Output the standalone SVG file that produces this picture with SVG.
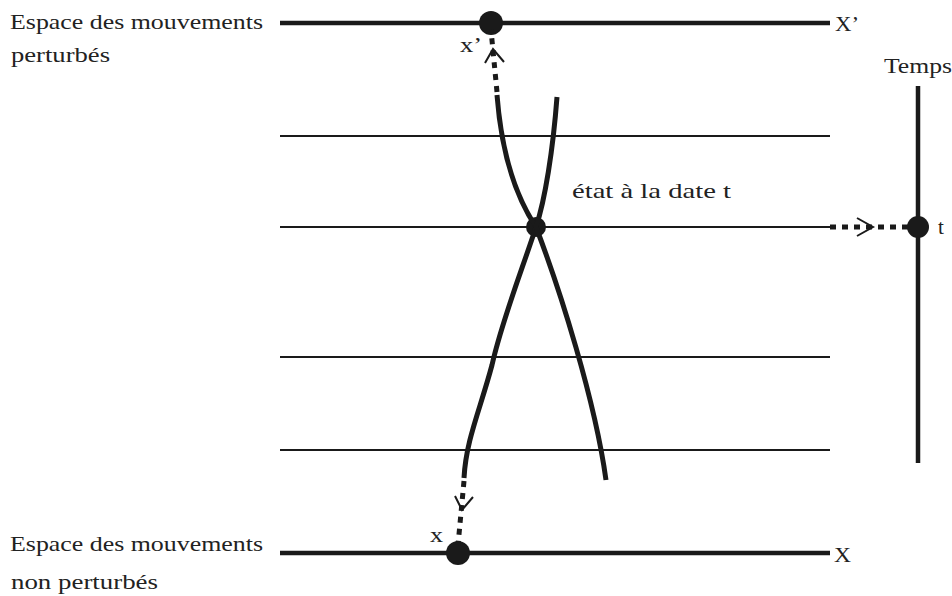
<svg xmlns="http://www.w3.org/2000/svg" width="952" height="596" viewBox="0 0 952 596">
<style>
.t{font-family:"Liberation Serif",serif;font-size:21px;fill:#222}
.thick{stroke:#1a1a1a;stroke-width:4.5;fill:none}
.thin{stroke:#1a1a1a;stroke-width:2.2;fill:none}
.curve{stroke:#1a1a1a;stroke-width:5;fill:none;stroke-linecap:butt}
.dash{stroke:#1a1a1a;stroke-width:5;fill:none;stroke-dasharray:6 6}
.chev{stroke:#1a1a1a;stroke-width:2;fill:none}
.dot{fill:#1a1a1a}
</style>
<rect width="952" height="596" fill="#fff"/>
<g id="levels">
<line class="thin" x1="280" y1="136" x2="830" y2="136"/>
<line class="thin" x1="280" y1="227" x2="830" y2="227"/>
<line class="thin" x1="280" y1="357" x2="830" y2="357"/>
<line class="thin" x1="280" y1="450" x2="830" y2="450"/>
</g>
<g id="space-perturbed">
<line class="thick" x1="280" y1="23" x2="830" y2="23"/>
<text class="t" x="10" y="29" textLength="253" lengthAdjust="spacingAndGlyphs">Espace des mouvements</text>
<text class="t" x="11" y="62" textLength="99" lengthAdjust="spacingAndGlyphs">perturbés</text>
<text class="t" x="835" y="31" textLength="24" lengthAdjust="spacingAndGlyphs">X’</text>
</g>
<g id="space-unperturbed">
<line class="thick" x1="280" y1="553" x2="830" y2="553"/>
<text class="t" x="10" y="551" textLength="253" lengthAdjust="spacingAndGlyphs">Espace des mouvements</text>
<text class="t" x="11" y="589" textLength="147" lengthAdjust="spacingAndGlyphs">non perturbés</text>
<text class="t" x="834" y="562" textLength="17" lengthAdjust="spacingAndGlyphs">X</text>
</g>
<g id="time-axis">
<line class="thick" x1="918" y1="86" x2="918" y2="463"/>
<text class="t" x="884" y="73" textLength="68" lengthAdjust="spacingAndGlyphs">Temps</text>
<circle class="dot" cx="918" cy="227" r="11"/>
<text class="t" x="938" y="234">t</text>
</g>
<g id="point-xp">
<circle class="dot" cx="491" cy="23" r="12"/>
<text class="t" x="460" y="52" textLength="22" lengthAdjust="spacingAndGlyphs">x’</text>
</g>
<g id="point-x">
<circle class="dot" cx="458" cy="553" r="12"/>
<text class="t" x="430" y="542" textLength="13" lengthAdjust="spacingAndGlyphs">x</text>
</g>
<g id="state">
<circle class="dot" cx="536" cy="227" r="10"/>
<text class="t" x="572" y="198" textLength="159" lengthAdjust="spacingAndGlyphs">état à la date t</text>
</g>
<g id="connectors">
<path class="curve" d="M497,95 C502,160 518,200 536,227 C522,270 502,320 492,365 C480,410 466,440 464,478"/>
<path class="curve" d="M557,97 C553,150 545,200 536,227 C560,290 595,400 606,480"/>
<line class="dash" x1="497" y1="92" x2="491" y2="30"/>
<polyline class="chev" points="485,63 493,49 504,62"/>
<line class="dash" x1="464" y1="481" x2="458" y2="545"/>
<polyline class="chev" points="455,496 462,510 473,497"/>
<line class="dash" x1="830" y1="227" x2="912" y2="227"/>
<polyline class="chev" points="857,218 873,227 857,236"/>
</g>
</svg>
